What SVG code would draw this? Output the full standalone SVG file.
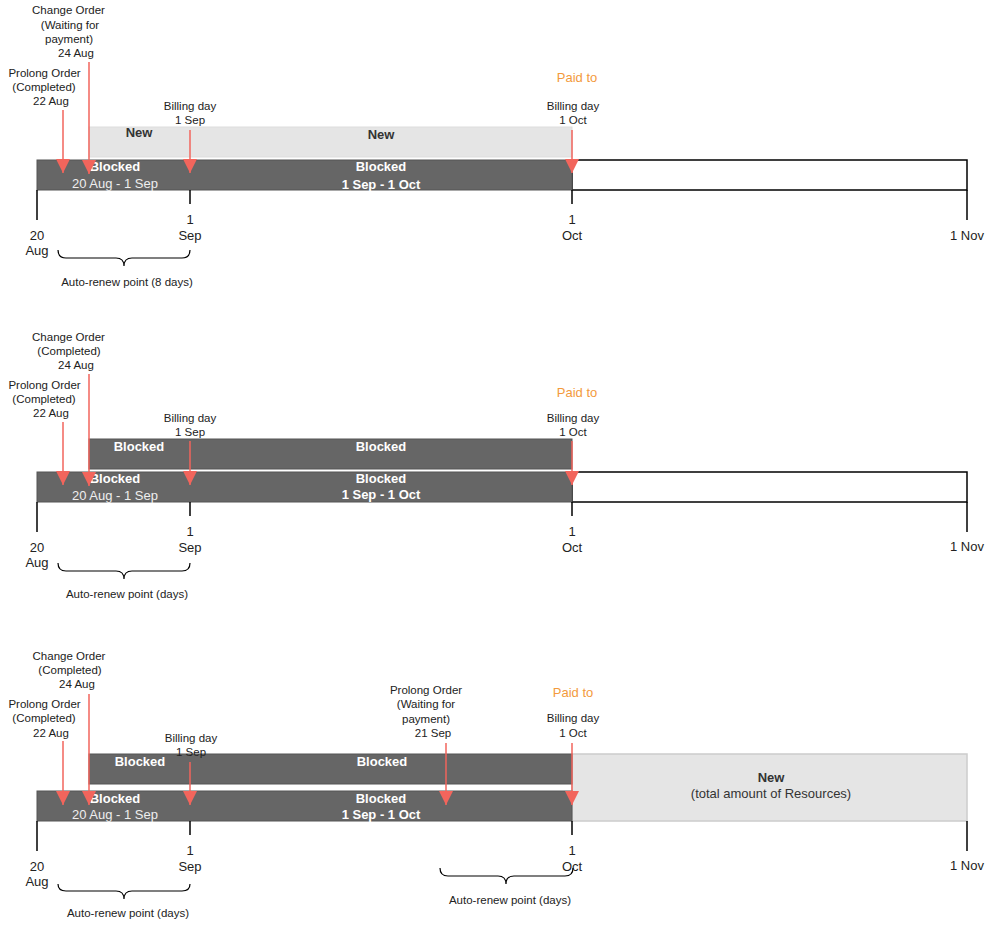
<svg xmlns="http://www.w3.org/2000/svg" width="989" height="927" viewBox="0 0 989 927">
<style>
text{font-family:"Liberation Sans",Arial,sans-serif;fill:#222}
.s{font-size:11.5px}
.t{font-size:13px}
.b{font-size:13px;font-weight:bold;fill:#fff}
.bd{font-size:13px;font-weight:bold;fill:#333}
.w{font-size:13px;fill:#eee}
.p{font-size:13px;fill:#f39a3c}
.dark{fill:#666;stroke:#555;stroke-width:1}
.light{fill:#e5e5e5;stroke:#ddd;stroke-width:1}
.axis{fill:none;stroke:#000;stroke-width:1.5}
.tick{stroke:#000;stroke-width:1.5}
.arr{stroke:#f2655c;stroke-width:1.5;marker-end:url(#ah)}
.brace{fill:none;stroke:#000;stroke-width:1.2}
</style>
<defs>
<marker id="ah" markerUnits="userSpaceOnUse" markerWidth="15" markerHeight="15" refX="14" refY="7" orient="auto">
<path d="M0,0 L14,7 L0,14 z" fill="#f2655c"/>
</marker>
</defs>

<!-- Panel 1 -->
<g id="panel1">
<g id="p1-bar">
<rect x="572" y="160" width="395" height="30" fill="#fff" stroke="#000" stroke-width="1.5"/>
<rect class="light" x="89" y="127" width="483" height="30"/>
<rect class="dark" x="37" y="160" width="535" height="30"/>
<text class="bd" x="139" y="137" text-anchor="middle">New</text>
<text class="bd" x="381" y="139" text-anchor="middle">New</text>
<text class="b" x="115" y="171" text-anchor="middle">Blocked</text>
<text class="w" x="115" y="188" text-anchor="middle">20 Aug - 1 Sep</text>
<text class="b" x="381" y="171" text-anchor="middle">Blocked</text>
<text class="b" x="381" y="189" text-anchor="middle">1 Sep - 1 Oct</text>
</g>
<g id="p1-axis">
<line class="tick" x1="37" y1="190" x2="37" y2="220"/>
<line class="tick" x1="190" y1="190" x2="190" y2="204"/>
<line class="tick" x1="572" y1="190" x2="572" y2="204"/>
<line class="tick" x1="967" y1="190" x2="967" y2="220"/>
<text class="t" x="37" y="240" text-anchor="middle">20</text>
<text class="t" x="37" y="255" text-anchor="middle">Aug</text>
<text class="t" x="190" y="224" text-anchor="middle">1</text>
<text class="t" x="190" y="240" text-anchor="middle">Sep</text>
<text class="t" x="572" y="224" text-anchor="middle">1</text>
<text class="t" x="572" y="240" text-anchor="middle">Oct</text>
<text class="t" x="967" y="240" text-anchor="middle">1 Nov</text>
</g>
<g id="p1-labels">
<text class="s" x="68.5" y="14" text-anchor="middle">Change Order</text>
<text class="s" x="70" y="29" text-anchor="middle">(Waiting for</text>
<text class="s" x="69" y="43" text-anchor="middle">payment)</text>
<text class="s" x="76" y="57" text-anchor="middle">24 Aug</text>
<text class="s" x="44.5" y="77" text-anchor="middle">Prolong Order</text>
<text class="s" x="44" y="91" text-anchor="middle">(Completed)</text>
<text class="s" x="51" y="105" text-anchor="middle">22 Aug</text>
<text class="s" x="190" y="110" text-anchor="middle">Billing day</text>
<text class="s" x="190" y="124" text-anchor="middle">1 Sep</text>
<text class="p" x="577" y="82" text-anchor="middle">Paid to</text>
<text class="s" x="573" y="110" text-anchor="middle">Billing day</text>
<text class="s" x="573" y="124" text-anchor="middle">1 Oct</text>
</g>
<g id="p1-brace">
<path class="brace" d="M58,250 Q58,258 66,258 L116,258 Q124,258 124,266 Q124,258 132,258 L182,258 Q190,258 190,250"/>
<text class="s" x="127" y="286" text-anchor="middle">Auto-renew point (8 days)</text>
</g>
</g>

<!-- Panel 2 -->
<g id="panel2">
<g id="p2-bar">
<rect x="572" y="472" width="395" height="30" fill="#fff" stroke="#000" stroke-width="1.5"/>
<rect class="dark" x="89" y="439" width="483" height="30"/>
<rect class="dark" x="37" y="472" width="535" height="30"/>
<text class="b" x="139" y="451" text-anchor="middle">Blocked</text>
<text class="b" x="381" y="451" text-anchor="middle">Blocked</text>
<text class="b" x="115" y="483" text-anchor="middle">Blocked</text>
<text class="w" x="115" y="500" text-anchor="middle">20 Aug - 1 Sep</text>
<text class="b" x="381" y="483" text-anchor="middle">Blocked</text>
<text class="b" x="381" y="499" text-anchor="middle">1 Sep - 1 Oct</text>
</g>
<g id="p2-axis">
<line class="tick" x1="37" y1="502" x2="37" y2="532"/>
<line class="tick" x1="190" y1="502" x2="190" y2="516"/>
<line class="tick" x1="572" y1="502" x2="572" y2="516"/>
<line class="tick" x1="967" y1="502" x2="967" y2="532"/>
<text class="t" x="37" y="552" text-anchor="middle">20</text>
<text class="t" x="37" y="567" text-anchor="middle">Aug</text>
<text class="t" x="190" y="536" text-anchor="middle">1</text>
<text class="t" x="190" y="552" text-anchor="middle">Sep</text>
<text class="t" x="572" y="536" text-anchor="middle">1</text>
<text class="t" x="572" y="552" text-anchor="middle">Oct</text>
<text class="t" x="967" y="551" text-anchor="middle">1 Nov</text>
</g>
<g id="p2-labels">
<text class="s" x="68.5" y="341" text-anchor="middle">Change Order</text>
<text class="s" x="69" y="355" text-anchor="middle">(Completed)</text>
<text class="s" x="76" y="369" text-anchor="middle">24 Aug</text>
<text class="s" x="44.5" y="389" text-anchor="middle">Prolong Order</text>
<text class="s" x="44" y="403" text-anchor="middle">(Completed)</text>
<text class="s" x="51" y="417" text-anchor="middle">22 Aug</text>
<text class="s" x="190" y="422" text-anchor="middle">Billing day</text>
<text class="s" x="190" y="436" text-anchor="middle">1 Sep</text>
<text class="p" x="577" y="397" text-anchor="middle">Paid to</text>
<text class="s" x="573" y="422" text-anchor="middle">Billing day</text>
<text class="s" x="573" y="436" text-anchor="middle">1 Oct</text>
</g>
<g id="p2-brace">
<path class="brace" d="M58,563 Q58,571 66,571 L116,571 Q124,571 124,579 Q124,571 132,571 L182,571 Q190,571 190,563"/>
<text class="s" x="127" y="598" text-anchor="middle">Auto-renew point (days)</text>
</g>
</g>

<!-- Panel 3 -->
<g id="panel3">
<g id="p3-bar">
<rect x="572" y="754" width="395" height="67" fill="#e5e5e5" stroke="#ccc" stroke-width="1.5"/>
<rect class="dark" x="89" y="754" width="483" height="30"/>
<rect class="dark" x="37" y="791" width="535" height="30"/>
<text class="b" x="140" y="766" text-anchor="middle">Blocked</text>
<text class="b" x="382" y="766" text-anchor="middle">Blocked</text>
<text class="b" x="115" y="803" text-anchor="middle">Blocked</text>
<text class="w" x="115" y="819" text-anchor="middle">20 Aug - 1 Sep</text>
<text class="b" x="381" y="803" text-anchor="middle">Blocked</text>
<text class="b" x="381" y="819" text-anchor="middle">1 Sep - 1 Oct</text>
<text class="bd" x="771" y="782" text-anchor="middle">New</text>
<text class="t" x="771" y="798" text-anchor="middle" style="fill:#333">(total amount of Resources)</text>
</g>
<g id="p3-axis">
<line class="tick" x1="37" y1="821" x2="37" y2="851"/>
<line class="tick" x1="190" y1="821" x2="190" y2="835"/>
<line class="tick" x1="572" y1="821" x2="572" y2="835"/>
<line class="tick" x1="967" y1="821" x2="967" y2="851"/>
<text class="t" x="37" y="871" text-anchor="middle">20</text>
<text class="t" x="37" y="886" text-anchor="middle">Aug</text>
<text class="t" x="190" y="855" text-anchor="middle">1</text>
<text class="t" x="190" y="871" text-anchor="middle">Sep</text>
<text class="t" x="572" y="855" text-anchor="middle">1</text>
<text class="t" x="572" y="871" text-anchor="middle">Oct</text>
<text class="t" x="967" y="870" text-anchor="middle">1 Nov</text>
</g>
<g id="p3-labels">
<text class="s" x="69" y="660" text-anchor="middle">Change Order</text>
<text class="s" x="70" y="674" text-anchor="middle">(Completed)</text>
<text class="s" x="77" y="688" text-anchor="middle">24 Aug</text>
<text class="s" x="44.5" y="708" text-anchor="middle">Prolong Order</text>
<text class="s" x="44" y="722" text-anchor="middle">(Completed)</text>
<text class="s" x="51" y="737" text-anchor="middle">22 Aug</text>
<text class="s" x="191" y="742" text-anchor="middle">Billing day</text>
<text class="s" x="191" y="756" text-anchor="middle">1 Sep</text>
<text class="s" x="426" y="694" text-anchor="middle">Prolong Order</text>
<text class="s" x="426" y="708" text-anchor="middle">(Waiting for</text>
<text class="s" x="426" y="723" text-anchor="middle">payment)</text>
<text class="s" x="433" y="737" text-anchor="middle">21 Sep</text>
<text class="p" x="573" y="697" text-anchor="middle">Paid to</text>
<text class="s" x="573" y="722" text-anchor="middle">Billing day</text>
<text class="s" x="573" y="737" text-anchor="middle">1 Oct</text>
</g>
<g id="p3-braces">
<path class="brace" d="M58,884 Q58,891 66,891 L116,891 Q124,891 124,899 Q124,891 132,891 L182,891 Q190,891 190,884"/>
<text class="s" x="128" y="917" text-anchor="middle">Auto-renew point (days)</text>
<path class="brace" d="M440,868 Q440,876 448,876 L498,876 Q506,876 506,884 Q506,876 514,876 L565,876 Q573,876 573,868"/>
<text class="s" x="510" y="904" text-anchor="middle">Auto-renew point (days)</text>
</g>
</g>

<!-- Connectors -->
<g id="connectors">
<line class="arr" x1="63" y1="110" x2="63" y2="173"/>
<line class="arr" x1="89" y1="62" x2="89" y2="174"/>
<line class="arr" x1="190" y1="130" x2="190" y2="173"/>
<line class="arr" x1="572" y1="130" x2="572" y2="173"/>
<line class="arr" x1="63" y1="422" x2="63" y2="485"/>
<line class="arr" x1="89" y1="374" x2="89" y2="486"/>
<line class="arr" x1="190" y1="441" x2="190" y2="485"/>
<line class="arr" x1="572" y1="441" x2="572" y2="485"/>
<line class="arr" x1="63" y1="741" x2="63" y2="805"/>
<line class="arr" x1="89" y1="694" x2="89" y2="805"/>
<line class="arr" x1="190" y1="762" x2="190" y2="805"/>
<line class="arr" x1="446" y1="743" x2="446" y2="805"/>
<line class="arr" x1="572" y1="743" x2="572" y2="805"/>
</g>
</svg>
